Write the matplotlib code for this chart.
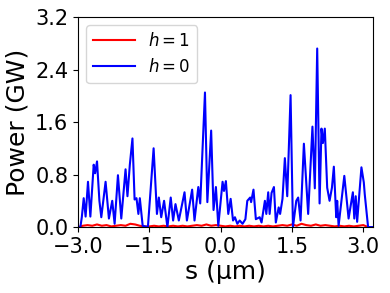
import matplotlib
matplotlib.use("Agg")
import matplotlib.pyplot as plt

# h = 0 (blue) series: position s (um) and power (GW)
s_h0 = [-3.00, -2.95, -2.92, -2.88, -2.84, -2.79, -2.74, -2.67, -2.64, -2.60,
        -2.55, -2.51, -2.42, -2.35, -2.28, -2.23, -2.16, -2.09, -2.00, -1.96,
        -1.91, -1.855, -1.81, -1.77, -1.73, -1.70, -1.64, -1.53, -1.41, -1.34,
        -1.30, -1.25, -1.19, -1.12, -1.05, -1.00, -0.95, -0.88, -0.76, -0.71,
        -0.60, -0.55, -0.47, -0.43, -0.33, -0.28, -0.20, -0.15, -0.10, -0.05,
        0.04, 0.07, 0.11, 0.16, 0.21, 0.26, 0.30, 0.35, 0.40, 0.46,
        0.52, 0.56, 0.62, 0.64, 0.69, 0.74, 0.82, 0.86, 0.93, 0.96,
        1.00, 1.03, 1.07, 1.12, 1.16, 1.22, 1.25, 1.30, 1.35, 1.40,
        1.47, 1.52, 1.59, 1.63, 1.68, 1.75, 1.84, 1.93, 1.98, 2.03,
        2.08, 2.12, 2.15, 2.19, 2.24, 2.29, 2.34, 2.38, 2.43, 2.45,
        2.48, 2.60, 2.69, 2.78, 2.81, 2.84, 2.87, 2.96, 3.01, 3.03,
        3.10, 3.20]
p_h0 = [0.00, 0.00, 0.15, 0.44, 0.16, 0.69, 0.16, 0.95, 0.82, 1.00,
        0.40, 0.15, 0.69, 0.13, 0.40, 0.05, 0.79, 0.13, 0.88, 0.47,
        0.95, 1.35, 0.42, 0.44, 0.20, 0.44, 0.02, 0.00, 1.20, 0.20,
        0.45, 0.15, 0.40, 0.00, 0.45, 0.10, 0.35, 0.10, 0.53, 0.10,
        0.57, 0.10, 0.61, 0.36, 2.05, 0.38, 1.47, 0.26, 0.61, 0.02,
        0.69, 0.55, 0.70, 0.20, 0.43, 0.10, 0.15, 0.05, 0.10, 0.05,
        0.12, 0.40, 0.45, 0.38, 0.57, 0.12, 0.15, 0.07, 0.40, 0.20,
        0.53, 0.20, 0.52, 0.61, 0.07, 0.30, 0.20, 0.43, 1.05, 0.47,
        2.01, 0.00, 0.40, 0.45, 0.10, 1.27, 0.20, 1.53, 0.59, 2.72,
        0.36, 1.50, 1.28, 1.50, 0.60, 0.40, 0.60, 0.92, 0.15, 0.40,
        0.02, 0.78, 0.13, 0.53, 0.13, 0.47, 0.08, 0.91, 0.68, 0.50,
        0.00, 0.00]

# h = 1 (red) series
s_h1 = [-3.00, -2.90, -2.80, -2.70, -2.60, -2.50, -2.40, -2.30, -2.20, -2.10,
        -2.00, -1.90, -1.80, -1.70, -1.60, -1.50, -1.40, -1.30, -1.20, -1.10,
        -1.00, -0.90, -0.80, -0.70, -0.60, -0.50, -0.40, -0.30, -0.20, -0.10,
        0.00, 0.10, 0.20, 0.30, 0.40, 0.50, 0.60, 0.70, 0.80, 0.90,
        1.00, 1.10, 1.20, 1.30, 1.40, 1.50, 1.60, 1.70, 1.80, 1.90,
        2.00, 2.10, 2.20, 2.30, 2.40, 2.50, 2.60, 2.70, 2.80, 2.90,
        3.00, 3.10, 3.20]
p_h1 = [0.00, 0.02, 0.03, 0.02, 0.04, 0.02, 0.03, 0.01, 0.02, 0.03,
        0.02, 0.05, 0.04, 0.02, 0.01, 0.01, 0.02, 0.01, 0.02, 0.01,
        0.02, 0.01, 0.02, 0.01, 0.02, 0.03, 0.02, 0.04, 0.02, 0.03,
        0.02, 0.01, 0.02, 0.01, 0.02, 0.01, 0.02, 0.01, 0.02, 0.01,
        0.02, 0.01, 0.02, 0.03, 0.02, 0.04, 0.02, 0.05, 0.03, 0.02,
        0.04, 0.02, 0.03, 0.02, 0.01, 0.02, 0.01, 0.02, 0.01, 0.02,
        0.03, 0.00, 0.00]

xticks = [-3.0, -1.5, 0.0, 1.5, 3.0]
yticks = [0.0, 0.8, 1.6, 2.4, 3.2]

fig = plt.figure(figsize=(3.9, 2.93), dpi=100)
ax = fig.add_axes([0.20, 0.225, 0.756, 0.717])
ax.plot(s_h1, p_h1, color="red", lw=1.5, label=r"$h=1$")
ax.plot(s_h0, p_h0, color="blue", lw=1.5, label=r"$h=0$")
ax.set_xlim(-3.0, 3.2)
ax.set_ylim(0.0, 3.2)
ax.set_xticks(xticks)
ax.set_xticklabels([f"{t:.1f}".replace("-", "\u2212") for t in xticks])
ax.set_yticks(yticks)
ax.set_yticklabels([f"{t:.1f}" for t in yticks])
ax.tick_params(labelsize=15)
ax.set_xlabel("s (\u03bcm)", fontsize=18, labelpad=2)
ax.set_ylabel("Power (GW)", fontsize=18, labelpad=4)
ax.legend(loc="upper left", fontsize=12, handlelength=2.5)
fig.savefig("out.png", dpi=100)
